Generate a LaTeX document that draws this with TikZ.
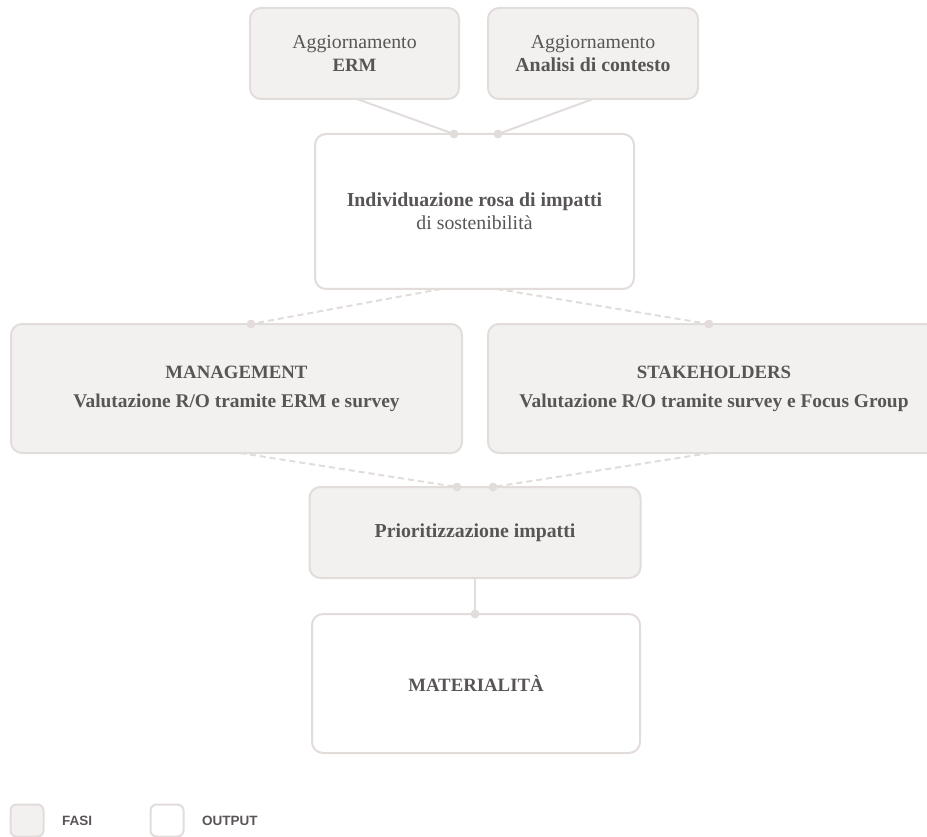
\documentclass[tikz,border=0pt]{standalone}
\usepackage{fontspec}
\setmainfont{Liberation Serif}
\setsansfont{Liberation Sans}
\definecolor{boxfill}{HTML}{F3F1F0}
\definecolor{boxline}{HTML}{E2DCDB}
\definecolor{txt}{HTML}{595555}
\newcommand{\lc}{\fontsize{19.8}{24}\selectfont}
\newcommand{\uc}{\fontsize{18.8}{24}\selectfont}
\newcommand{\vc}{\fontsize{19.4}{24}\selectfont}
\tikzset{
  base/.style={draw=boxline, line width=2pt, rounded corners=11pt, align=center,
    text=txt, font=\lc, inner sep=0pt},
  phase/.style={base, fill=boxfill},
  outbox/.style={base, fill=white},
  conn/.style={draw=boxline, line width=2pt},
  dconn/.style={draw=boxline, line width=2pt, dash pattern=on 6pt off 4pt},
  dot/.style={circle, fill=boxline, inner sep=0pt, minimum size=8.5pt},
  leg/.style={text=txt, font=\sffamily\bfseries\fontsize{13.5}{15}\selectfont, anchor=west, inner sep=0pt}
}
\begin{document}
\begin{tikzpicture}[x=1pt,y=-1pt]
\useasboundingbox (0,0) rectangle (927,837);
\clip (0,0) rectangle (927,837);
\node[phase, minimum width=209pt, minimum height=91pt] (erm) at (354.5,53.5)
  {Aggiornamento\\[-1pt]{\uc\textbf{ERM}}};
\node[phase, minimum width=210pt, minimum height=91pt] (ctx) at (593,53.5)
  {Aggiornamento\\[-1pt]\textbf{Analisi di contesto}};
\node[outbox, minimum width=319pt, minimum height=155pt] (ind) at (474.5,211.5)
  {\textbf{Individuazione rosa di impatti}\\[-1pt]di sostenibilità};
\node[phase, minimum width=451pt, minimum height=129pt] (man) at (236.5,388.5)
  {{\uc\textbf{MANAGEMENT}}\\[5pt]{\vc\textbf{Valutazione R/O tramite ERM e survey}}};
\node[phase, minimum width=452pt, minimum height=129pt] (stk) at (714,388.5)
  {{\uc\textbf{STAKEHOLDERS}}\\[5pt]{\vc\textbf{Valutazione R/O tramite survey e Focus Group}}};
\node[phase, minimum width=331pt, minimum height=91pt] (pri) at (475,532.5)
  {\textbf{Prioritizzazione impatti}};
\node[outbox, minimum width=328pt, minimum height=139pt] (mat) at (476,683.5)
  {{\uc\textbf{MATERIALITÀ}}};

% dots
\node[dot] (d1) at (454,134) {};
\node[dot] (d2) at (498,134) {};
\node[dot] (d3) at (251,324) {};
\node[dot] (d4) at (709,324) {};
\node[dot] (d5) at (457,487) {};
\node[dot] (d6) at (493,487) {};
\node[dot] (d7) at (475,614) {};

\coordinate (e1) at (357,99);
\coordinate (c1) at (593,99);
\coordinate (i1) at (441,289);
\coordinate (i2) at (497,289);
\coordinate (m1) at (240,453);
\coordinate (s1) at (710,453);
\coordinate (p1) at (475,578);

\draw[conn] (e1) -- (d1.center);
\draw[conn] (c1) -- (d2.center);
\draw[dconn] (i1) -- (d3.center);
\draw[dconn] (i2) -- (d4.center);
\draw[dconn] (m1) -- (d5.center);
\draw[dconn] (s1) -- (d6.center);
\draw[conn] (p1) -- (d7.center);
\node[dot] at (d1) {};\node[dot] at (d2) {};\node[dot] at (d3) {};\node[dot] at (d4) {};
\node[dot] at (d5) {};\node[dot] at (d6) {};\node[dot] at (d7) {};

% legend
\node[phase, rounded corners=6pt, minimum width=33pt, minimum height=32pt] (lf) at (27,820.5) {};
\node[leg] (lft) at (62,821) {FASI};
\node[outbox, rounded corners=6pt, minimum width=33pt, minimum height=32pt] (lo) at (167,820.5) {};
\node[leg] (lot) at (202,821) {OUTPUT};
\end{tikzpicture}
\end{document}
